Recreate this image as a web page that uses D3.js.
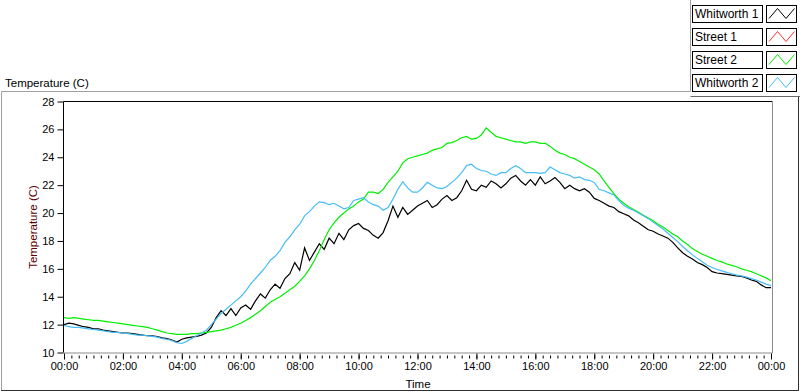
<!DOCTYPE html>
<html>
<head>
<meta charset="utf-8">
<script src="https://cdn.jsdelivr.net/npm/d3@7"></script>
<style>
  html, body { margin: 0; padding: 0; background: #ffffff; }
  svg { display: block; font-family: "Liberation Sans", Arial, sans-serif; }
</style>
</head>
<body>
<svg id="chart" width="800" height="392"></svg>
<script>
// ---------------- DATA ----------------
const seriesNames = ["Whitworth 1", "Street 1", "Street 2", "Whitworth 2"];
const seriesColors = ["#000000", "#ff3030", "#00ee00", "#46bdf6"];
const stepMinutes = 10; // one reading every 10 minutes, from 00:00 to 24:00

const whitworth1 = [
  12.0, 12.1, 12.05, 11.95, 11.85, 11.8,
  11.7, 11.7, 11.6, 11.55, 11.5, 11.45,
  11.4, 11.4, 11.35, 11.3, 11.25, 11.2,
  11.2, 11.15, 11.05, 11.0, 10.9, 10.75,
  10.95, 11.05, 11.1, 11.15, 11.25, 11.4,
  11.8, 12.5, 13.0, 12.65, 13.15, 12.65,
  13.2, 13.4, 13.1, 13.7, 14.2, 13.9,
  14.5, 14.9, 14.6, 15.3, 15.65, 16.45,
  15.9, 17.5, 16.6, 17.2, 17.8, 17.4,
  18.2, 17.8, 18.55, 18.1, 18.8, 19.1,
  19.25, 18.9, 18.75, 18.4, 18.2, 18.6,
  19.45, 20.5, 19.7, 20.4, 19.9, 20.2,
  20.5, 20.7, 20.9, 20.4, 20.6, 21.0,
  21.25, 20.9, 21.1, 21.6, 22.35, 21.7,
  21.6, 22.0, 21.85, 22.3, 22.1, 21.8,
  22.1, 22.5, 22.7, 22.3, 22.0, 22.4,
  22.0, 22.6, 22.1, 22.3, 22.55, 22.2,
  21.75, 22.0, 21.75, 21.6, 21.75, 21.5,
  21.05, 20.9, 20.7, 20.5, 20.4, 20.1,
  19.95, 19.8, 19.5, 19.3, 19.05, 18.8,
  18.7, 18.5, 18.35, 18.2, 17.9, 17.5,
  17.15, 16.9, 16.7, 16.45, 16.3, 16.1,
  15.8, 15.7, 15.65, 15.6, 15.55, 15.5,
  15.45, 15.35, 15.2, 15.1, 14.85, 14.65,
  14.65
];

const street1 = []; // no readings shown

const street2 = [
  12.5, 12.45, 12.5, 12.45, 12.4, 12.35,
  12.3, 12.3, 12.25, 12.2, 12.15, 12.1,
  12.05, 12.0, 11.95, 11.9, 11.85, 11.8,
  11.7, 11.6, 11.5, 11.4, 11.35, 11.3,
  11.3, 11.3, 11.35, 11.35, 11.4, 11.45,
  11.5, 11.55, 11.6, 11.7, 11.8, 11.95,
  12.1, 12.3, 12.5, 12.75, 13.0, 13.3,
  13.6, 13.8, 14.0, 14.25, 14.5, 14.75,
  15.1, 15.5, 16.0, 16.6, 17.3, 18.1,
  18.8, 19.3, 19.7, 20.0, 20.3, 20.5,
  20.8, 21.0, 21.5, 21.5, 21.4, 21.7,
  22.2, 22.6, 23.0, 23.6, 23.9, 24.0,
  24.1, 24.2, 24.3, 24.5, 24.6, 24.7,
  25.0, 25.05, 25.2, 25.4, 25.5, 25.3,
  25.35, 25.6, 26.1, 25.8, 25.5, 25.4,
  25.3, 25.2, 25.1, 25.1, 25.0, 25.1,
  25.1, 25.0, 25.0, 24.8, 24.5, 24.3,
  24.2, 24.0, 23.9, 23.7, 23.5, 23.3,
  23.1, 22.8, 22.3, 21.85, 21.4, 21.0,
  20.7, 20.45, 20.25, 20.05, 19.85, 19.65,
  19.45, 19.2, 19.0, 18.75, 18.5, 18.3,
  18.0, 17.75, 17.45, 17.25, 17.05, 16.9,
  16.75, 16.6, 16.5, 16.35, 16.25, 16.15,
  16.0, 15.9, 15.8, 15.65, 15.5, 15.35,
  15.15
];

const whitworth2 = [
  11.95, 11.85, 11.8, 11.8, 11.75, 11.7,
  11.65, 11.6, 11.55, 11.5, 11.45, 11.45,
  11.4, 11.35, 11.3, 11.25, 11.25, 11.2,
  11.15, 11.1, 11.0, 10.95, 10.85, 10.7,
  10.65, 10.8, 11.0, 11.2, 11.4, 11.6,
  12.0, 12.4, 12.8, 13.1, 13.4, 13.7,
  14.0, 14.4, 14.9, 15.3, 15.7, 16.1,
  16.6, 16.9, 17.3, 17.9, 18.3, 18.8,
  19.2, 19.8, 20.1, 20.5, 20.8, 20.75,
  20.6, 20.7, 20.5, 20.3, 20.4, 20.9,
  21.0, 21.1, 20.8, 20.6, 20.5, 20.2,
  20.4, 21.0, 21.7, 22.25, 21.8, 21.5,
  21.5, 21.8, 22.2, 22.0, 21.8, 21.75,
  21.9, 22.2, 22.5, 22.9, 23.4, 23.5,
  23.2, 23.05, 23.0, 22.8, 22.7, 22.9,
  22.9, 23.2, 23.4, 23.2, 22.9, 22.9,
  22.9, 22.85, 22.9, 23.3, 23.1, 22.9,
  22.8, 22.7, 22.5, 22.6, 22.4, 22.35,
  22.2, 21.7, 21.6, 21.45, 21.3, 20.9,
  20.55, 20.35, 20.2, 20.0, 19.8, 19.6,
  19.35, 19.1, 18.85, 18.55, 18.25, 17.95,
  17.6, 17.3, 17.0, 16.75, 16.5, 16.25,
  16.1, 15.95, 15.85, 15.75, 15.65, 15.55,
  15.5, 15.4, 15.3, 15.2, 15.05, 14.9,
  14.8
];

const seriesValues = [whitworth1, street1, street2, whitworth2];
const yTicks = [10, 12, 14, 16, 18, 20, 22, 24, 26, 28];
const chartTitle = "Temperature (C)";
const yAxisTitle = "Temperature (C)";
const xAxisTitle = "Time";

// ---------------- LAYOUT ----------------
const svg = d3.select("#chart");
const plot = { left: 63.5, right: 772.5, top: 101.5, bottom: 352.5 };

const t0 = new Date(2000, 0, 1, 0, 0);
const t1 = new Date(2000, 0, 2, 0, 0);
const x = d3.scaleTime().domain([t0, t1]).range([plot.left + 0.5, plot.right - 1.5]);
const y = d3.scaleLinear().domain([10, 28]).range([plot.bottom, plot.top]);
const timeAt = i => new Date(t0.getTime() + i * stepMinutes * 60000);

// outer frame
svg.append("path")
  .attr("d", "M1.5,391 L1.5,91.5 L690.5,91.5 L690.5,0")
  .attr("fill", "none").attr("stroke", "#a0a0a0");
svg.append("path")
  .attr("d", "M690.5,96.5 L800,96.5")
  .attr("fill", "none").attr("stroke", "#696969");
svg.append("path")
  .attr("d", "M1,390.5 L799,390.5 M798.5,97 L798.5,391")
  .attr("fill", "none").attr("stroke", "#303030");

// chart title
svg.append("text").attr("x", 5).attr("y", 87)
  .attr("font-size", "11.5px").attr("fill", "#000").text(chartTitle);

// plot area background
svg.append("rect")
  .attr("x", plot.left).attr("y", plot.top)
  .attr("width", plot.right - plot.left).attr("height", plot.bottom - plot.top)
  .attr("fill", "#ffffff");

// clip
svg.append("clipPath").attr("id", "clip").append("rect")
  .attr("x", plot.left).attr("y", plot.top - 1)
  .attr("width", plot.right - plot.left).attr("height", plot.bottom - plot.top + 1);

// lines
const line = d3.line()
  .x((d, i) => x(timeAt(i)))
  .y(d => y(d));

const gLines = svg.append("g").attr("clip-path", "url(#clip)");
seriesValues.forEach((vals, k) => {
  if (!vals.length) return;
  gLines.append("path")
    .datum(vals)
    .attr("d", line)
    .attr("fill", "none")
    .attr("stroke", seriesColors[k])
    .attr("stroke-width", 1.2)
    .attr("stroke-linejoin", "miter");
});

// plot frame (top/left dark, right/bottom grey)
svg.append("path")
  .attr("d", `M${plot.left},${plot.bottom} L${plot.left},${plot.top} L${plot.right},${plot.top}`)
  .attr("fill", "none").attr("stroke", "#000");
svg.append("path")
  .attr("d", `M${plot.right},${plot.top} L${plot.right},${plot.bottom + 0.5} L${plot.left},${plot.bottom + 0.5}`)
  .attr("fill", "none").attr("stroke", "#8c8c8c");

// Y axis
const yAxis = d3.axisLeft(y).tickValues(yTicks).tickSize(6).tickPadding(3).tickFormat(d3.format("d"));
const gy = svg.append("g").attr("transform", `translate(${plot.left},0)`).call(yAxis);
gy.select(".domain").remove();
gy.selectAll("line").attr("stroke", "#000");
gy.selectAll("text").attr("font-size", "11px").attr("fill", "#000")
  .attr("font-family", "Liberation Sans, Arial, sans-serif");

// X axis: minor ticks every 15 min, major every 2 h
const minorTicks = d3.timeMinute.every(15).range(t0, new Date(t1.getTime() + 1));
const xMinor = d3.axisBottom(x).tickValues(minorTicks).tickSize(3).tickFormat("");
const gxm = svg.append("g").attr("transform", `translate(0,${plot.bottom + 3})`).call(xMinor);
gxm.select(".domain").remove();
gxm.selectAll("line").attr("stroke", "#000");

const majorTicks = d3.timeHour.every(2).range(t0, new Date(t1.getTime() + 1));
const xAxis = d3.axisBottom(x).tickValues(majorTicks).tickSize(6).tickPadding(3)
  .tickFormat(d3.timeFormat("%H:%M"));
const gx = svg.append("g").attr("transform", `translate(0,${plot.bottom + 1})`).call(xAxis);
gx.select(".domain").remove();
gx.selectAll("line").attr("stroke", "#000");
gx.selectAll("text").attr("font-size", "11px").attr("fill", "#000")
  .attr("font-family", "Liberation Sans, Arial, sans-serif");

// axis titles
svg.append("text")
  .attr("x", (plot.left + plot.right) / 2).attr("y", 388)
  .attr("text-anchor", "middle").attr("font-size", "11.5px").attr("fill", "#000")
  .text(xAxisTitle);
svg.append("text")
  .attr("transform", `translate(37,${(plot.top + plot.bottom) / 2}) rotate(-90)`)
  .attr("text-anchor", "middle").attr("font-size", "11.5px").attr("fill", "#5a0000")
  .text(yAxisTitle);

// legend
const legendRow = d3.scaleBand().domain(seriesNames).range([5, 91]).paddingInner(0.26).paddingOuter(0);
const lg = svg.append("g");
seriesNames.forEach((name, k) => {
  const top = Math.round(legendRow(name)) + 0.5;
  const h = 17;
  lg.append("rect").attr("x", 692.5).attr("y", top).attr("width", 70).attr("height", h)
    .attr("fill", "#fff").attr("stroke", "#000");
  lg.append("text").attr("x", 695).attr("y", top + 12.5)
    .attr("font-size", "12px").attr("fill", "#000").text(name);
  lg.append("rect").attr("x", 766.5).attr("y", top).attr("width", 30).attr("height", h)
    .attr("fill", "#fff").attr("stroke", "#000");
  lg.append("path")
    .attr("d", `M769,${top + 13} L777.5,${top + 3} L786,${top + 13} L794.5,${top + 3}`)
    .attr("fill", "none").attr("stroke", seriesColors[k]).attr("stroke-width", 1);
});
</script>
</body>
</html>
